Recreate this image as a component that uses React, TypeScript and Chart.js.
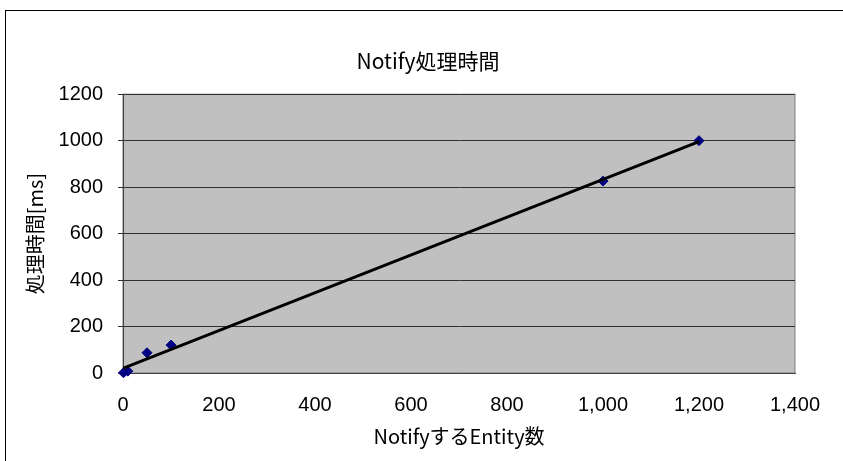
import React, { useEffect, useRef } from "react";
import { Chart, registerables } from "chart.js";

Chart.register(...registerables);

const chartTitle = "Notify処理時間";
const xAxisTitle = "NotifyするEntity数";
const yAxisTitle = "処理時間[ms]";

const entityCounts = [1, 10, 50, 100, 1000, 1200];
const processingMs = [1, 8, 87, 120, 826, 1000];

const xTickValues = [0, 200, 400, 600, 800, 1000, 1200, 1400];
const yTickValues = [0, 200, 400, 600, 800, 1000, 1200];

function linearFit(xs: number[], ys: number[]) {
  const n = xs.length;
  const mx = xs.reduce((a, b) => a + b, 0) / n;
  const my = ys.reduce((a, b) => a + b, 0) / n;
  let sxy = 0;
  let sxx = 0;
  for (let i = 0; i < n; i++) {
    sxy += (xs[i] - mx) * (ys[i] - my);
    sxx += (xs[i] - mx) * (xs[i] - mx);
  }
  const slope = sxy / sxx;
  const intercept = my - slope * mx;
  return { slope, intercept };
}

const plotBackground = {
  id: "plotBackground",
  beforeDraw(chart: any) {
    const { ctx, chartArea } = chart;
    if (!chartArea) return;
    ctx.save();
    ctx.fillStyle = "#C0C0C0";
    ctx.fillRect(
      chartArea.left,
      chartArea.top,
      chartArea.right - chartArea.left,
      chartArea.bottom - chartArea.top
    );
    ctx.strokeStyle = "#808080";
    ctx.lineWidth = 1;
    ctx.strokeRect(
      chartArea.left,
      chartArea.top,
      chartArea.right - chartArea.left,
      chartArea.bottom - chartArea.top
    );
    ctx.restore();
  },
};

export default function App() {
  const canvasRef = useRef<HTMLCanvasElement | null>(null);

  useEffect(() => {
    if (!canvasRef.current) return;
    const fit = linearFit(entityCounts, processingMs);
    const xMin = Math.min(...entityCounts);
    const xMax = Math.max(...entityCounts);
    const trend = [
      { x: xMin, y: fit.intercept + fit.slope * xMin },
      { x: xMax, y: fit.intercept + fit.slope * xMax },
    ];
    const points = entityCounts.map((x, i) => ({ x, y: processingMs[i] }));

    const chart = new Chart(canvasRef.current, {
      type: "scatter",
      data: {
        datasets: [
          {
            type: "line",
            label: "trend",
            data: trend,
            borderColor: "#000000",
            borderWidth: 3,
            pointRadius: 0,
            fill: false,
            order: 0,
            yAxisID: "y",
          } as any,
          {
            type: "scatter",
            label: "data",
            data: points,
            pointStyle: "rectRot",
            pointRadius: 5,
            backgroundColor: "#000080",
            borderColor: "#000080",
            borderWidth: 1,
            order: 1,
            clip: false,
            yAxisID: "y",
          } as any,
        ],
      },
      options: {
        animation: false,
        responsive: false,
        layout: { padding: { left: 13, right: 0, top: 0, bottom: 0 } },
        plugins: {
          legend: { display: false },
          tooltip: { enabled: false },
          title: {
            display: true,
            text: chartTitle,
            color: "#000000",
            font: { family: "'Noto Sans CJK JP'", size: 21, weight: "normal" },
            padding: { top: 48, bottom: 21 },
          },
        },
        scales: {
          x: {
            type: "linear",
            min: 0,
            max: 1400,
            afterBuildTicks: (scale: any) => {
              scale.ticks = xTickValues.map((v) => ({ value: v }));
            },
            afterFit: (scale: any) => {
              scale.height = 88;
            },
            grid: { display: false, drawTicks: false },
            border: { display: true, color: "#404040", width: 1 },
            ticks: {
              color: "#000000",
              font: { family: "'Liberation Sans'", size: 20 },
              padding: 20,
              maxRotation: 0,
              autoSkip: false,
              callback: (v: any) => Number(v).toLocaleString("en-US"),
            },
            title: {
              display: true,
              text: xAxisTitle,
              color: "#000000",
              font: { family: "'Noto Sans CJK JP'", size: 20 },
              padding: { top: 0, bottom: 13 },
            },
          },
          y: {
            type: "linear",
            position: "left",
            min: 0,
            max: 1200,
            afterBuildTicks: (scale: any) => {
              scale.ticks = yTickValues.map((v) => ({ value: v }));
            },
            afterFit: (scale: any) => {
              scale.width = 110;
            },
            grid: {
              display: true,
              color: "#303030",
              lineWidth: 1,
              drawTicks: true,
              tickLength: 5,
            },
            border: { display: true, color: "#404040", width: 1 },
            ticks: {
              color: "#000000",
              font: { family: "'Liberation Sans'", size: 20 },
              padding: 15,
              autoSkip: false,
              callback: (v: any) => String(v),
            },
            title: {
              display: true,
              text: yAxisTitle,
              color: "#000000",
              font: { family: "'Noto Sans CJK JP'", size: 20 },
              padding: { top: 10, bottom: 0 },
            },
          },
          rightSpace: {
            type: "linear",
            position: "right",
            display: true,
            min: 0,
            max: 1200,
            afterFit: (scale: any) => {
              scale.width = 48;
            },
            grid: { display: false, drawTicks: false },
            border: { display: false },
            ticks: { display: false },
            title: { display: false },
          } as any,
        },
      },
      plugins: [plotBackground],
    });
    return () => chart.destroy();
  }, []);

  return (
    <div
      style={{
        position: "absolute",
        left: 0,
        top: 0,
        width: 843,
        height: 461,
        overflow: "hidden",
        background: "#ffffff",
      }}
    >
      <div
        style={{
          position: "absolute",
          left: 5,
          top: 10,
          width: 900,
          height: 500,
          border: "1px solid #000000",
          boxSizing: "border-box",
        }}
      />
      <canvas
        ref={canvasRef}
        width={843}
        height={461}
        style={{ position: "absolute", left: 0, top: 0, width: 843, height: 461 }}
      />
    </div>
  );
}
